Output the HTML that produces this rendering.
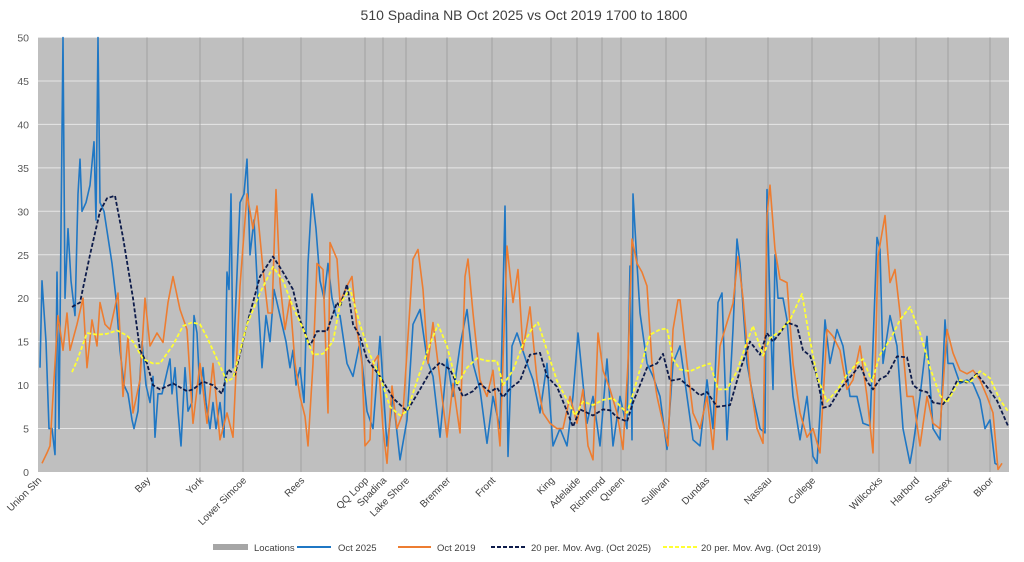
<!DOCTYPE html>
<html><head><meta charset="utf-8"><style>
html,body{margin:0;padding:0;background:#fff;}
svg{display:block;font-family:"Liberation Sans",sans-serif;}
</style></head><body>
<svg id="chart" width="1024" height="562" viewBox="0 0 1024 562">
<text x="524" y="20" text-anchor="middle" font-size="14" fill="#404040">510 Spadina NB Oct 2025 vs Oct 2019 1700 to 1800</text>
<rect x="38" y="37.5" width="971" height="434.5" fill="#bfbfbf"/>
<g id="grid"></g><g id="locs"></g><g id="series"></g><g id="xlabels"></g><g id="ylabels"></g>
<g font-size="9.5" fill="#404040">
<rect x="213" y="544" width="35" height="6" fill="#a6a6a6"/>
<text x="254" y="551">Locations</text>
<line x1="297" y1="547" x2="331" y2="547" stroke="#1f77c4" stroke-width="2"/>
<text x="338" y="551">Oct 2025</text>
<line x1="398" y1="547" x2="431" y2="547" stroke="#ed7d31" stroke-width="2"/>
<text x="437" y="551">Oct 2019</text>
<line x1="491" y1="547" x2="525" y2="547" stroke="#0d1b4a" stroke-width="2" stroke-dasharray="4,2"/>
<text x="531" y="551">20 per. Mov. Avg. (Oct 2025)</text>
<line x1="663" y1="547" x2="697" y2="547" stroke="#ffff33" stroke-width="2" stroke-dasharray="4,2"/>
<text x="701" y="551">20 per. Mov. Avg. (Oct 2019)</text>
</g>
</svg>
<script>
const yTicks=[0,5,10,15,20,25,30,35,40,45,50];
const locNames=["Union Stn","Bay","York","Lower Simcoe","Rees","QQ Loop","Spadina","Lake Shore","Bremner","Front","King","Adelaide","Richmond","Queen","Sullivan","Dundas","Nassau","College","Willcocks","Harbord","Sussex","Bloor"];
const locPos=[0,109,162,205,263,327,345,368,409,454,513,539,564,583,628,668,730,774,841,878,910,952];
const oct2025X=[2,4,8,11,14,17,19,21,23,25,27,30,33,37,40,42,44,48,52,56,58,60,62,66,70,74,78,82,86,90,94,96,100,104,108,112,115,117,120,124,128,132,134,137,140,143,147,150,154,156,159,162,165,168,172,175,178,182,186,189,191,193,195,198,202,206,209,212,216,220,224,228,232,236,240,244,248,252,255,258,262,266,270,274,278,282,286,290,294,298,302,309,315,322,329,335,342,349,355,362,369,375,382,389,395,402,409,415,422,429,435,442,449,455,462,467,470,474,479,489,495,502,509,515,522,529,535,540,549,555,562,569,575,582,589,592,594,595,599,602,609,615,622,629,635,642,649,655,662,669,675,680,684,689,695,699,702,709,715,722,727,729,732,735,737,740,745,749,755,762,769,775,779,782,787,792,799,805,812,819,825,832,839,842,845,852,859,865,872,875,882,889,895,902,907,910,915,922,929,935,942,947,952,957,960];
const oct2025Y=[12,22,15,5,5,2,23,5,28,50,20,28,22,18,32,36,30,31,33,38,29,50,31,30,27,24,20,14,10,9,6,5,7,15,10,8,11,4,9,9,11,13,9,12,7,3,12,7,8,18,16,9,12,8,5,8,5,8,4,23,21,32,12,20,31,32,36,25,29,20,12,18,15,21,19,17,15,12,14,10,12,8,24,32,28,22,20,24,20,18,18,12.5,11,15,7,5,15.6,3,8.7,1.4,6,17,18.7,13,11,4,13,8.7,14.5,18.7,12.5,9.5,3.3,8.7,5,30.6,1.8,14.5,16,12.5,10.6,6.8,12.5,3,5,3,8.7,16,5.6,8.7,3,13,3,8.7,5,23.7,3.7,32,24,18.3,12.5,11,8.7,2.6,12.5,14.5,8.7,3.7,3,10.6,5,19.5,20.6,3.7,16.4,26.8,24,12.5,8.7,5,4.5,32.5,19,9.5,25,20,20,17.5,8.7,3.7,8.7,1.8,1,6.8,17.5,12.5,16.4,14.5,8.7,8.7,5.6,5.3,27,25.6,12.5,18,14.5,5,1,3,8.7,15.6,5,3.7,17.5,12.5,12.5,10.2,10.6,10.2,8.3,5,6,1,0.8];
const oct2019X=[4,9,12,17,20,25,29,32,39,45,49,54,59,62,67,72,77,80,85,90,95,102,107,112,119,125,130,135,142,149,155,162,169,175,182,189,195,202,209,215,219,225,230,234,238,242,247,252,257,262,267,270,275,279,285,290,292,299,302,309,314,319,324,327,332,335,340,345,349,354,359,365,370,375,380,385,390,395,402,409,415,422,427,430,435,442,449,455,462,469,475,480,485,492,499,505,512,519,525,532,539,545,550,555,560,565,572,579,585,590,594,599,604,609,614,619,625,630,635,640,642,649,655,662,669,675,682,689,695,700,705,712,719,725,729,732,737,742,749,755,762,769,775,782,789,795,802,809,815,822,829,835,840,844,847,852,857,862,869,875,882,889,895,902,909,915,922,929,935,942,949,955,960,964];
const oct2019Y=[1,2.2,3,12.5,18,14,18.3,14,17,20,12,17.5,14.5,19.5,17,16.4,19,20.6,8.7,15.6,6.8,10.6,20,14.5,16,14.9,19.5,22.5,18.7,16.4,5.6,12.5,5.6,12.5,3.7,6.8,4,21.4,32,28,30.6,23.3,18.3,18.3,32.5,21.8,16.4,20,12.5,8.7,6.4,3,12.5,24,23.3,6.8,26.4,24.5,19.5,21.4,22.5,16.4,12.5,3,3.7,12.5,13.4,5,1,9.9,5,6.8,15.6,24.5,25.6,21,12.5,17.2,10.6,4,10.2,4.5,22.5,24.5,18.3,10.6,8.7,11.7,3,26,19.5,23.3,14,19,10.6,6.8,5.6,5,5,8.7,5.6,9.5,3,1.4,16,11.7,9.5,6.8,2.6,12.5,26.8,24,23,21.4,12.5,8.7,5.6,3,16.4,19.8,19.8,12.5,6.8,5,8.7,2.6,14.5,17.2,19.4,24.8,20,10.6,5,3.3,29.5,33,25.6,22.2,21.8,12.5,6.8,4,5,2.2,16.4,15.6,14,9.5,10.6,14.5,8.7,2.2,24.8,27.5,29.5,21.8,23.3,18.3,8.7,8.7,3,8.7,5.6,5,16.4,13.7,11.7,11.3,11.7,10.6,8.7,6.8,0.3,1];
const ma2025X=[34,42,52,62,69,77,85,95,102,109,115,122,135,149,155,165,175,184,190,197,209,222,235,245,255,262,272,279,289,299,302,309,315,322,329,342,355,369,382,392,402,412,425,435,442,452,459,465,472,482,492,502,509,519,529,535,542,555,565,572,579,589,595,609,619,625,632,642,649,655,662,669,675,679,685,692,702,712,722,729,735,742,749,759,765,772,779,785,792,802,809,815,822,829,835,842,849,859,869,875,882,889,895,905,912,919,929,939,949,959,970];
const ma2025Y=[19,19.5,25,30,31.5,31.8,27,20,14,12.5,10,9.5,10.2,9.3,9.5,10.4,10,9,11.8,11.2,17,22.5,24.8,23,21,17.5,14.5,16.2,16.2,19.5,19,21.6,17,15.6,13,11,8.5,7,9.5,11.5,12.6,11.8,8.7,9.3,10.2,9.2,9.7,8.6,9.6,10.5,13.5,13.7,11,9.8,7,5.2,7.2,6.5,7.2,7.1,6.3,5.8,8,12,12.5,13.6,10.5,10.7,10,9.5,8.8,9.2,8.2,7.5,7.6,7.7,11.7,15,13.5,16,15,16,17.2,16.8,14,13.4,11,7.4,7.6,9.5,10.5,11.3,12.3,10.4,9.5,10.7,11.1,13.3,13.2,10,9.4,9.2,8,7.8,8.8,10.5,10.3,11.3,9.8,8.2,5.3];
const ma2019X=[34,39,49,59,69,79,89,95,105,115,122,135,145,154,162,169,179,189,195,209,222,235,245,255,265,275,285,295,302,312,322,332,342,352,362,369,382,392,400,409,419,429,439,449,459,465,475,485,494,500,509,519,529,537,545,555,565,575,582,589,595,605,612,622,629,635,642,652,662,672,680,689,699,709,715,725,732,742,752,764,770,779,789,799,809,819,825,834,842,852,862,872,882,892,902,909,915,922,932,942,952,962,970];
const ma2019Y=[11.5,12.8,16,15.8,15.9,16.3,15.7,15,13,12.5,12.5,14.6,16.8,17.2,17,15.5,13,10.4,10.8,17,20.6,23.6,22,19,16.5,13.5,13.6,15,19.3,21.1,17,13.5,11,7.5,6.5,7,11.5,14.7,17,14.5,10,12,13.1,12.8,12.8,10,11.7,14.7,16.5,17.2,14,10.5,8.3,6.5,8.1,7.7,8.3,8.5,7.6,6.8,9,13,15.8,16.4,16.5,13,11.8,11.6,12.1,12.5,9.5,9.5,11.6,15,16.8,13.4,15.4,16.2,17.5,20.5,16.4,11,8.1,9.4,11.2,12.5,13,10.4,13.5,15.2,17.5,19,16,12,8.8,8,9.2,10.6,10.3,11.6,10.8,8.3,7];

const NS="http://www.w3.org/2000/svg";
const X0=38,X1=1009,Y0=472,Y1=37.5,XMAX=971,YMAX=50;
function xs(v){return X0+v/XMAX*(X1-X0);}
function ys(v){return Y0-v/YMAX*(Y0-Y1);}
function mk(tag,attrs,parent){const e=document.createElementNS(NS,tag);for(const k in attrs)e.setAttribute(k,attrs[k]);parent.appendChild(e);return e;}
const grid=document.getElementById('grid'),ylab=document.getElementById('ylabels');
yTicks.forEach(t=>{
  if(t>0){const l=mk('line',{x1:X0,x2:X1,y1:ys(t),y2:ys(t),stroke:'#e6e6e6','stroke-width':1},grid);
  
  }
  const tx=mk('text',{x:29,y:ys(t)+4,'text-anchor':'end','font-size':10.5,fill:'#595959'},ylab);
  tx.textContent=t;
  
  
});
const locs=document.getElementById('locs'),xl=document.getElementById('xlabels');
locPos.forEach((p,i)=>{
  if(p>0){const l=mk('line',{x1:xs(p),x2:xs(p),y1:Y1,y2:Y0,stroke:'#9a9a9a','stroke-width':0.8},locs);
  
  }
  const tx=mk('text',{x:0,y:0,'text-anchor':'end','font-size':10,fill:'#404040',transform:'translate('+(xs(p)+4)+','+(Y0+9)+') rotate(-45)'},xl);
  tx.textContent=locNames[i];
  
  
});
const ser=document.getElementById('series');
function line(X,Y,color,w,dash,name){
  const d=X.map((x,i)=>(i?'L':'M')+xs(x).toFixed(1)+','+ys(Y[i]).toFixed(1)).join('');
  const a={d:d,fill:'none',stroke:color,'stroke-width':w,'stroke-linejoin':'round'};
  if(dash)a['stroke-dasharray']=dash;
  const p=mk('path',a,ser);
  
  
}
line(oct2025X,oct2025Y,'#1f77c4',1.6,null,'series-oct-2025');
line(oct2019X,oct2019Y,'#ed7d31',1.6,null,'series-oct-2019');
line(ma2025X,ma2025Y,'#0d1b4a',1.8,'4,2','series-ma-2025');
line(ma2019X,ma2019Y,'#ffff33',1.8,'4,2','series-ma-2019');
</script>
</body></html>
